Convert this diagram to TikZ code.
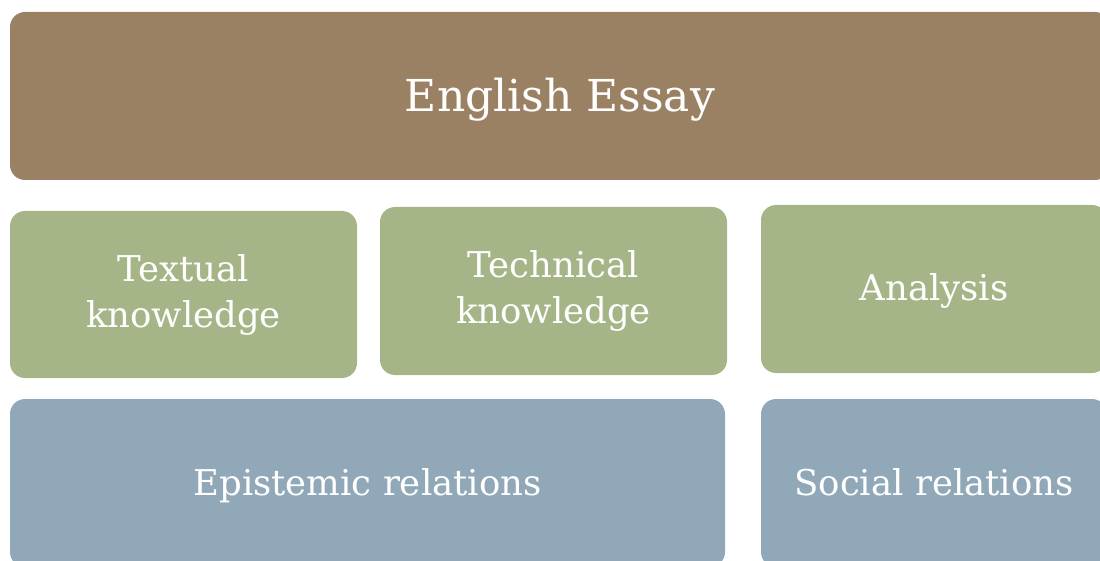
\documentclass[tikz,border=0pt]{standalone}
\usepackage{fontspec}
\setmainfont{DejaVu Serif}
\definecolor{cbrown}{HTML}{9B8163}
\definecolor{cgreen}{HTML}{A6B588}
\definecolor{cblue}{HTML}{91A8B8}
\tikzset{
  tile/.style={rectangle, rounded corners=15pt, draw=none, text=white, inner sep=0pt, align=center,
    font=\fontsize{35.5}{46}\selectfont},
  oneline/.style={text height=32pt, text depth=8pt},
}
\begin{document}
\begin{tikzpicture}[x=1pt,y=-1pt]
\useasboundingbox (0,0) rectangle (1100,561);
\clip (0,0) rectangle (1100,561);
\node[tile, fill=cbrown, minimum width=1100pt, minimum height=168pt, font=\fontsize{44}{52}\selectfont, text height=40pt, text depth=9pt] (essay) at (560,96) {English Essay};
\node[tile, fill=cgreen, minimum width=347pt, minimum height=167pt] (textual) at (183.5,294.5) {Textual\\knowledge};
\node[tile, fill=cgreen, minimum width=347pt, minimum height=168pt] (technical) at (553.5,291) {Technical\\knowledge};
\node[tile, oneline, fill=cgreen, minimum width=346pt, minimum height=168pt] (analysis) at (934,289) {Analysis};
\node[tile, oneline, fill=cblue, minimum width=715pt, minimum height=168pt] (epistemic) at (367.5,483) {Epistemic relations};
\node[tile, oneline, fill=cblue, minimum width=346pt, minimum height=168pt] (social) at (934,483) {Social relations};
\end{tikzpicture}
\end{document}
